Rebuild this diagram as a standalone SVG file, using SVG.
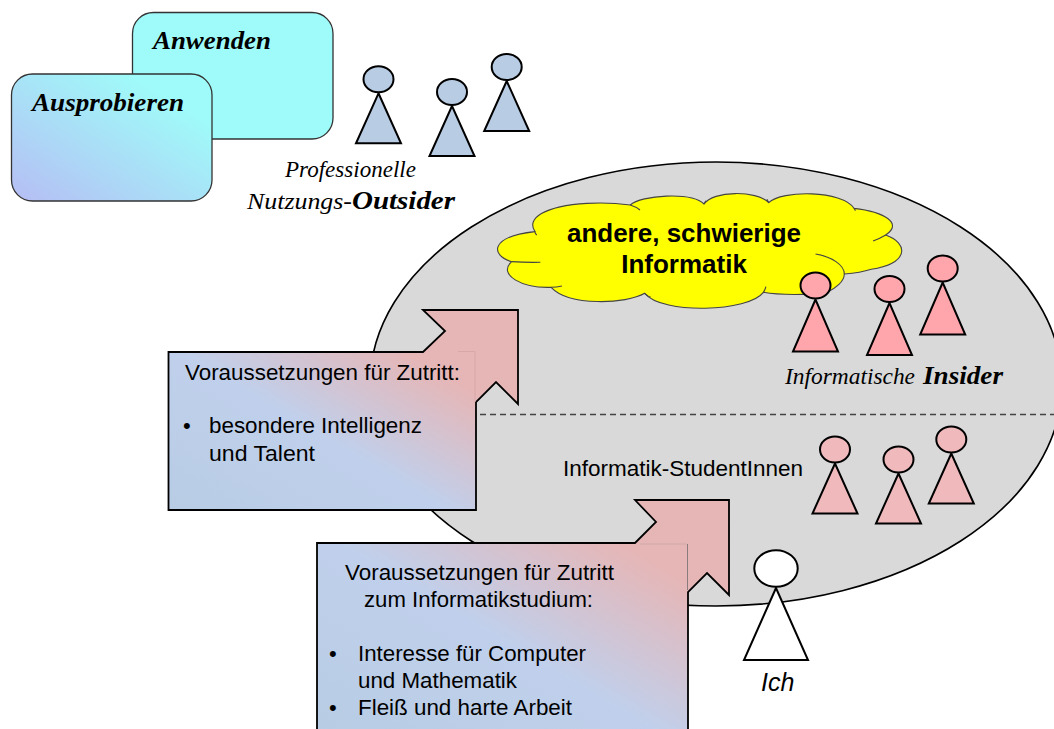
<svg xmlns="http://www.w3.org/2000/svg" width="1054" height="729" viewBox="0 0 1054 729">
<style>
.sans{font-family:"Liberation Sans",Arial,sans-serif;font-size:22px;fill:#000}
.ser{font-family:"Liberation Serif","Times New Roman",serif;font-style:italic;font-size:24px;fill:#000}
.b{font-weight:bold;font-size:26px}
.box{stroke:#333;stroke-width:1.3}
.pers{stroke:#000;stroke-width:2;stroke-linejoin:miter}
.blue{fill:#b8cce4}.red{fill:#ffa6ac}.pink{fill:#f0babd}.white{fill:#fff}
.out{stroke:#000;stroke-width:1.8;stroke-linejoin:miter}
</style>
<defs>
<linearGradient id="gAus" x1="0" y1="1" x2="1" y2="0">
<stop offset="0" stop-color="#b6bdf4"/><stop offset="0.8" stop-color="#9ffbf9"/>
</linearGradient>
<linearGradient id="gB1" gradientUnits="userSpaceOnUse" x1="168" y1="510" x2="300" y2="288">
<stop offset="0" stop-color="#b8cce4"/><stop offset="0.55" stop-color="#c0d0ec"/><stop offset="1" stop-color="#e6b6b6"/>
</linearGradient>
<linearGradient id="gB2" gradientUnits="userSpaceOnUse" x1="317" y1="729" x2="478" y2="458">
<stop offset="0" stop-color="#b8cce4"/><stop offset="0.54" stop-color="#c0d0ec"/><stop offset="1" stop-color="#e6b6b6"/>
</linearGradient>
<g id="fig">
<path d="M0,14 L-22.5,64 H22.5 Z"/>
<ellipse cx="0" cy="0" rx="15" ry="13"/>
</g>
<g id="figTall">
<path d="M0,14 L-22.5,66 H22.5 Z"/>
<ellipse cx="0" cy="0" rx="15" ry="13"/>
</g>
</defs>

<g id="node-anwenden">
<rect class="box" x="132.5" y="12.5" width="200.5" height="126.5" rx="21" fill="#9ffbf9"/>
<text class="ser b" x="153" y="49" textLength="118" lengthAdjust="spacingAndGlyphs">Anwenden</text>
</g>
<g id="node-ausprobieren">
<rect class="box" x="11.5" y="74" width="200.5" height="127" rx="21" fill="url(#gAus)"/>
<text class="ser b" x="32" y="111" textLength="152" lengthAdjust="spacingAndGlyphs">Ausprobieren</text>
</g>

<g id="group-outsider">
<use href="#fig" x="378.5" y="79.3" class="pers blue"/>
<use href="#fig" x="452" y="92" class="pers blue"/>
<use href="#fig" x="506.7" y="67" class="pers blue"/>
<text class="ser" x="285" y="177" textLength="131" lengthAdjust="spacingAndGlyphs">Professionelle</text>
<text class="ser" x="247" y="209" textLength="105" lengthAdjust="spacingAndGlyphs">Nutzungs-</text>
<text class="ser b" x="352" y="209" textLength="103" lengthAdjust="spacingAndGlyphs">Outsider</text>
</g>

<g id="node-bereich">
<ellipse cx="716" cy="384" rx="346" ry="222" fill="#d9d9d9" stroke="#000" stroke-width="1.6"/>
</g>

<g id="connectors">
<path d="M480,414.5 H1054" fill="none" stroke="#444" stroke-width="1.3" stroke-dasharray="6 4"/>
</g>

<g id="node-cloud">
<g transform="translate(490,180) scale(.3597,.3333)" fill="#ff0" stroke="#444" stroke-width="1.1">
<path vector-effect="non-scaling-stroke" d="M125,155 C100,115 150,78 270,70 C320,67 370,72 390,75 C420,45 560,35 595,72 C620,32 740,30 775,68 C810,30 980,30 1012,85 C1095,95 1150,130 1100,165 C1165,190 1165,250 1060,268 C1040,275 1010,280 985,282 C985,305 960,325 940,335 C890,347 800,345 760,337 C720,395 480,405 430,340 C380,372 220,380 170,322 C90,325 20,285 60,245 C0,225 0,170 125,155 Z"/>
<path vector-effect="non-scaling-stroke" fill="none" d="M125,155 Q125,160 130,165 M390,75 Q405,80 417,90 M595,72 L600,62 M775,68 L770,58 M1012,85 L1016,92 M1100,165 Q1085,175 1065,183 M905,222 C950,230 985,255 985,282 M767,320 Q765,330 760,337 M430,340 Q440,350 447,352 M170,322 Q185,322 200,318 M60,245 Q100,248 140,247"/>
</g>
<text class="sans" x="684" y="242" text-anchor="middle" style="font-size:26px;font-weight:bold">andere, schwierige</text>
<text class="sans" x="684" y="273" text-anchor="middle" style="font-size:26px;font-weight:bold">Informatik</text>
</g>

<g id="group-insider">
<use href="#figTall" x="815.5" y="285.5" class="pers red"/>
<use href="#figTall" x="889.5" y="289" class="pers red"/>
<use href="#figTall" x="942.7" y="268.5" class="pers red"/>
<text class="ser" x="785" y="384" textLength="130" lengthAdjust="spacingAndGlyphs">Informatische</text>
<text class="ser b" x="923" y="384" textLength="80" lengthAdjust="spacingAndGlyphs">Insider</text>
</g>

<g id="group-studenten">
<use href="#fig" x="835" y="449.5" class="pers pink"/>
<use href="#fig" x="898.5" y="459.5" class="pers pink"/>
<use href="#fig" x="951.3" y="439.5" class="pers pink"/>
<text class="sans" x="563" y="476" textLength="240" lengthAdjust="spacingAndGlyphs">Informatik-StudentInnen</text>
</g>

<g id="node-voraussetzung1">
<path class="out" fill="url(#gB1)" d="M168.5,352 H423 L445,331 L423,310 H518 V404 L496,382 L476,402 V510 H168.5 Z"/>
<path d="M458,351.5 H475 V402" fill="none" stroke="#d8a8a8" stroke-width="1"/>
<text class="sans" x="185" y="380" textLength="275" lengthAdjust="spacingAndGlyphs">Voraussetzungen für Zutritt:</text>
<text class="sans" x="183" y="433">•</text>
<text class="sans" x="209" y="433" textLength="213" lengthAdjust="spacingAndGlyphs">besondere Intelligenz</text>
<text class="sans" x="209" y="461" textLength="106" lengthAdjust="spacingAndGlyphs">und Talent</text>
</g>

<g id="node-voraussetzung2">
<path class="out" fill="url(#gB2)" d="M317,543 H635 L656,522 L635,500 H729 V595 L707,573 L688,592 V735 H317 Z"/>
<path d="M640,544 H687" fill="none" stroke="#d0a8a8" stroke-width="1"/>
<path d="M687.5,544 V590" fill="none" stroke="#8a7c7c" stroke-width="1"/>
<text class="sans" x="345" y="580" textLength="269" lengthAdjust="spacingAndGlyphs">Voraussetzungen für Zutritt</text>
<text class="sans" x="364" y="607" textLength="229" lengthAdjust="spacingAndGlyphs">zum Informatikstudium:</text>
<text class="sans" x="329" y="661">•</text>
<text class="sans" x="358" y="661" textLength="228" lengthAdjust="spacingAndGlyphs">Interesse für Computer</text>
<text class="sans" x="358" y="688" textLength="159" lengthAdjust="spacingAndGlyphs">und Mathematik</text>
<text class="sans" x="329" y="715">•</text>
<text class="sans" x="358" y="715" textLength="214" lengthAdjust="spacingAndGlyphs">Fleiß und harte Arbeit</text>
</g>

<g id="node-ich">
<path class="pers white" d="M776,588 L744,660 H808 Z"/>
<ellipse class="pers white" cx="776" cy="568.5" rx="21.7" ry="18.3"/>
<text class="sans" x="761" y="691" style="font-style:italic;font-size:25px">Ich</text>
</g>
</svg>
